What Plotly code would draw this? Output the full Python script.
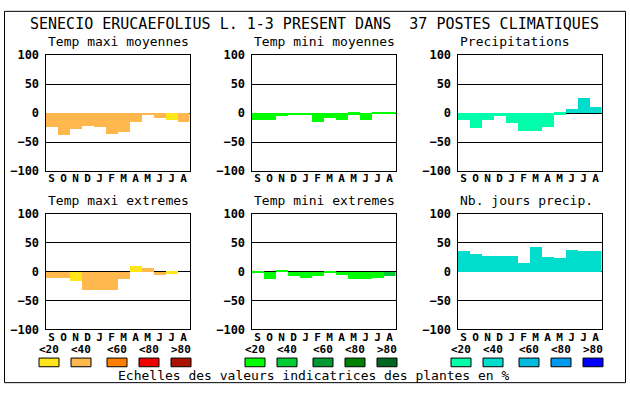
import plotly.graph_objects as go

W, H = 630, 394

months = ["S", "O", "N", "D", "J", "F", "M", "A", "M", "J", "J", "A"]
yticks = [-100, -50, 0, 50, 100]
class_labels = ["<20", "<40", "<60", "<80", ">80"]

# values (% deviation) and colour class index per month
tmax_moy = [-25, -38, -28, -22, -24, -36, -33, -15, -4, -8, -13, -16]
tmax_moy_cls = [1, 1, 1, 1, 1, 1, 1, 1, 1, 1, 0, 1]
tmin_moy = [-13, -13, -6, -4, -4, -15, -8, -12, -3, -12, -2, -2]
tmin_moy_cls = [0, 0, 0, 0, 0, 0, 0, 0, 0, 0, 0, 0]
precip = [-12, -27, -12, -6, -18, -32, -32, -25, -3, 7, 25, 10]
precip_cls = [0, 0, 0, 0, 0, 0, 0, 0, 0, 1, 1, 1]
tmax_ext = [-11, -11, -16, -31, -31, -31, -13, 11, 7, -6, -3, 0]
tmax_ext_cls = [1, 1, 0, 1, 1, 1, 1, 0, 1, 1, 0, 1]
tmin_ext = [-2, -12, 2, -7, -11, -7, -2, -6, -12, -12, -10, -7]
tmin_ext_cls = [0, 0, 0, 0, 0, 0, 0, 0, 0, 0, 0, 1]
nbjours = [36, 31, 28, 28, 28, 16, 43, 26, 24, 37, 36, 36]
nbjours_cls = [1, 1, 1, 1, 1, 1, 1, 1, 1, 1, 1, 1]

warm = ["#FFE619", "#FFB84D", "#FF8000", "#EE0000", "#AA1100"]
green = ["#00FF00", "#00CC33", "#009933", "#008000", "#006622"]
blue = ["#00FFAA", "#00DDCC", "#00BBDD", "#0099EE", "#0000FF"]

title = "SENECIO ERUCAEFOLIUS L. 1-3 PRESENT DANS  37 POSTES CLIMATIQUES"
caption = "Echelles des valeurs indicatrices des plantes en %"

panels = [
    ("Temp maxi moyennes", tmax_moy, tmax_moy_cls, warm),
    ("Temp mini moyennes", tmin_moy, tmin_moy_cls, green),
    ("Precipitations", precip, precip_cls, blue),
    ("Temp maxi extremes", tmax_ext, tmax_ext_cls, warm),
    ("Temp mini extremes", tmin_ext, tmin_ext_cls, green),
    ("Nb. jours precip.", nbjours, nbjours_cls, blue),
]

# pixel layout
col_x = [(45.5, 189.5), (251.5, 395.5), (457.5, 601.5)]
row_y = [(50, 170), (214.3, 334.3)]

MONO = "DejaVu Sans Mono"

def px(x):
    return x / W

def py(y):
    return 1 - y / H

fig = go.Figure()
layout = dict(
    width=W, height=H,
    margin=dict(l=0, r=0, t=0, b=0),
    paper_bgcolor="white", plot_bgcolor="white",
    showlegend=False, bargap=0,
    font=dict(family=MONO, color="black"),
)
annotations = []
shapes = []

for i, (ptitle, vals, cls, pal) in enumerate(panels):
    r, c = divmod(i, 3)
    x0, x1 = col_x[c]
    y0, y1 = row_y[r]
    n = "" if i == 0 else str(i + 1)
    fig.add_trace(go.Bar(
        x=list(range(len(months))), y=vals,
        marker=dict(color=[pal[k] for k in cls], line=dict(width=0)),
        width=1.0, xaxis="x" + n, yaxis="y" + n,
        hoverinfo="y",
    ))
    layout["xaxis" + n] = dict(
        domain=[px(x0), px(x1)], anchor="y" + n,
        range=[-0.5, len(months) - 0.5],
        tickvals=list(range(len(months))), ticktext=months,
        tickfont=dict(family=MONO, size=11, weight="bold"),
        showgrid=False, zeroline=False,
        showline=True, mirror=True, linecolor="black", linewidth=1,
        ticks="", ticklabelstandoff=-3, fixedrange=True,
    )
    layout["yaxis" + n] = dict(
        domain=[py(y1), py(y0)], anchor="x" + n,
        range=[-100, 100], tickvals=yticks,
        tickfont=dict(family=MONO, size=12, weight="bold"),
        showgrid=True, gridcolor="black", gridwidth=1,
        zeroline=True, zerolinecolor="black", zerolinewidth=1,
        showline=True, mirror=True, linecolor="black", linewidth=1,
        ticks="", ticklabelstandoff=3, fixedrange=True,
    )
    annotations.append(dict(
        text=ptitle, x=px(x0), y=py(y0 - 4), xref="paper", yref="paper",
        xanchor="left", yanchor="bottom", showarrow=False,
        font=dict(family=MONO, size=13, color="black"),
    ))

annotations.append(dict(
    text=title, x=px(314), y=py(18), xref="paper", yref="paper",
    xanchor="center", yanchor="middle", showarrow=False,
    font=dict(family=MONO, size=15, color="black"),
))
annotations.append(dict(
    text=caption, x=px(314), y=py(382), xref="paper", yref="paper",
    xanchor="center", yanchor="middle", showarrow=False,
    font=dict(family=MONO, size=13, color="black"),
))

# outer frame
shapes.append(dict(type="rect", xref="paper", yref="paper",
                   x0=px(4.5), x1=px(625.5), y0=py(389.5), y1=py(4.5),
                   line=dict(color="black", width=1)))

# colour scale legend
legend_x = [[39, 71, 107, 139, 171], [245, 277, 313, 345, 377], [451, 483, 519, 551, 583]]
for pal, xs in zip([warm, green, blue], legend_x):
    for k, (col, lx) in enumerate(zip(pal, xs)):
        shapes.append(dict(type="rect", xref="paper", yref="paper",
                           x0=px(lx), x1=px(lx + 20), y0=py(373), y1=py(364),
                           fillcolor=col, line=dict(color="black", width=1)))
        annotations.append(dict(
            text=class_labels[k], x=px(lx + 10), y=py(355), xref="paper", yref="paper",
            xanchor="center", yanchor="middle", showarrow=False,
            font=dict(family=MONO, size=11, color="black", weight="bold"),
        ))

layout["annotations"] = annotations
layout["shapes"] = shapes
fig.update_layout(**layout)
fig.write_html(
    "out.html",
    config={"displayModeBar": False},
    post_script=(
        "document.documentElement.style.margin='0';"
        "document.documentElement.style.overflow='hidden';"
        "document.body.style.margin='0';document.body.style.padding='0';"
        "document.body.style.overflow='hidden';"
        "var d=document.getElementById('{plot_id}');"
        "d.style.position='fixed';d.style.top='0px';d.style.left='0px';"
    ),
)
